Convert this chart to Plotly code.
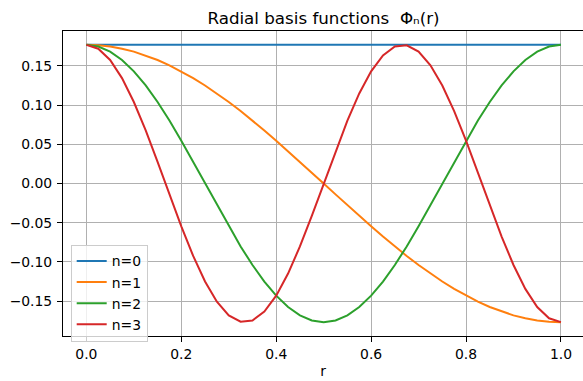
import plotly.graph_objects as go

r = [0.0, 0.025, 0.05, 0.075, 0.1, 0.125, 0.15, 0.175, 0.2, 0.225,
     0.25, 0.275, 0.3, 0.325, 0.35, 0.375, 0.4, 0.425, 0.45, 0.475,
     0.5, 0.525, 0.55, 0.575, 0.6, 0.625, 0.65, 0.675, 0.7, 0.725,
     0.75, 0.775, 0.8, 0.825, 0.85, 0.875, 0.9, 0.925, 0.95, 0.975, 1.0]

phi0 = [0.17678] * 41

phi1 = [0.17678, 0.17624, 0.17460, 0.17189, 0.16813, 0.16332, 0.15751, 0.15073,
        0.14302, 0.13442, 0.12500, 0.11481, 0.10391, 0.09237, 0.08026, 0.06765,
        0.05463, 0.04127, 0.02765, 0.01387, 0.0,
        -0.01387, -0.02765, -0.04127, -0.05463, -0.06765, -0.08026, -0.09237,
        -0.10391, -0.11481, -0.12500, -0.13442, -0.14302, -0.15073, -0.15751,
        -0.16332, -0.16813, -0.17189, -0.17460, -0.17624, -0.17678]

phi2 = [0.17678, 0.17460, 0.16813, 0.15751, 0.14302, 0.12500, 0.10391, 0.08026,
        0.05463, 0.02765, 0.0, -0.02765, -0.05463, -0.08026, -0.10391, -0.12500,
        -0.14302, -0.15751, -0.16813, -0.17460, -0.17678,
        -0.17460, -0.16813, -0.15751, -0.14302, -0.12500, -0.10391, -0.08026,
        -0.05463, -0.02765, 0.0, 0.02765, 0.05463, 0.08026, 0.10391, 0.12500,
        0.14302, 0.15751, 0.16813, 0.17460, 0.17678]

phi3 = [0.17678, 0.17189, 0.15751, 0.13442, 0.10391, 0.06765, 0.02765, -0.01387,
        -0.05463, -0.09237, -0.12500, -0.15073, -0.16813, -0.17624, -0.17460,
        -0.16332, -0.14302, -0.11481, -0.08026, -0.04127, 0.0,
        0.04127, 0.08026, 0.11481, 0.14302, 0.16332, 0.17460, 0.17624, 0.16813,
        0.15073, 0.12500, 0.09237, 0.05463, 0.01387, -0.02765, -0.06765,
        -0.10391, -0.13442, -0.15751, -0.17189, -0.17678]

names = ["n=0", "n=1", "n=2", "n=3"]
series = [phi0, phi1, phi2, phi3]
colors = ["#1f77b4", "#ff7f0e", "#2ca02c", "#d62728"]

x_ticks = [0.0, 0.2, 0.4, 0.6, 0.8, 1.0]
y_ticks = [-0.15, -0.10, -0.05, 0.00, 0.05, 0.10, 0.15]

FONT = "DejaVu Sans"

fig = go.Figure()
for name, ys, col in zip(names, series, colors):
    fig.add_trace(go.Scatter(x=r, y=ys, mode="lines", name=name,
                             line=dict(color=col, width=2)))

W, H = 583, 381
ml, mr, mt, mb = 63, 0, 31, 45

fig.update_layout(
    width=W, height=H,
    margin=dict(l=ml, r=mr, t=mt, b=mb, pad=0),
    paper_bgcolor="white", plot_bgcolor="white",
    font=dict(family=FONT, size=13.9, color="black"),
    title=dict(text="Radial basis functions&nbsp; Φₙ(r)",
               font=dict(family=FONT, size=16.7, color="black"),
               x=(ml + (W - ml + 1) / 2) / W, xanchor="center", xref="container",
               y=1 - 18 / H, yanchor="middle", yref="container"),
    showlegend=True,
    legend=dict(x=0.0148, y=0.300, xanchor="left", yanchor="top",
                bgcolor="rgba(255,255,255,0.8)", bordercolor="#cccccc",
                borderwidth=1, font=dict(family=FONT, size=13.9, color="black"),
                itemwidth=30),
)

fig.update_xaxes(
    range=[-0.0493, 1.0465],
    tickvals=x_ticks, tickformat=".1f",
    ticks="outside", ticklen=5, tickwidth=1, tickcolor="black",
    showline=True, linecolor="black", linewidth=1, mirror=True,
    showgrid=True, gridcolor="#b0b0b0", gridwidth=1, zeroline=False,
    title=dict(text="r", font=dict(family=FONT, size=13.9), standoff=5),
)
fig.update_yaxes(
    range=[-0.19445, 0.19445],
    tickvals=y_ticks, tickformat=".2f",
    ticks="outside", ticklen=5, tickwidth=1, tickcolor="black",
    showline=True, linecolor="black", linewidth=1, mirror=False,
    showgrid=True, gridcolor="#b0b0b0", gridwidth=1, zeroline=False,
    ticklabelstandoff=2,
)

fig.write_html("out.html")
